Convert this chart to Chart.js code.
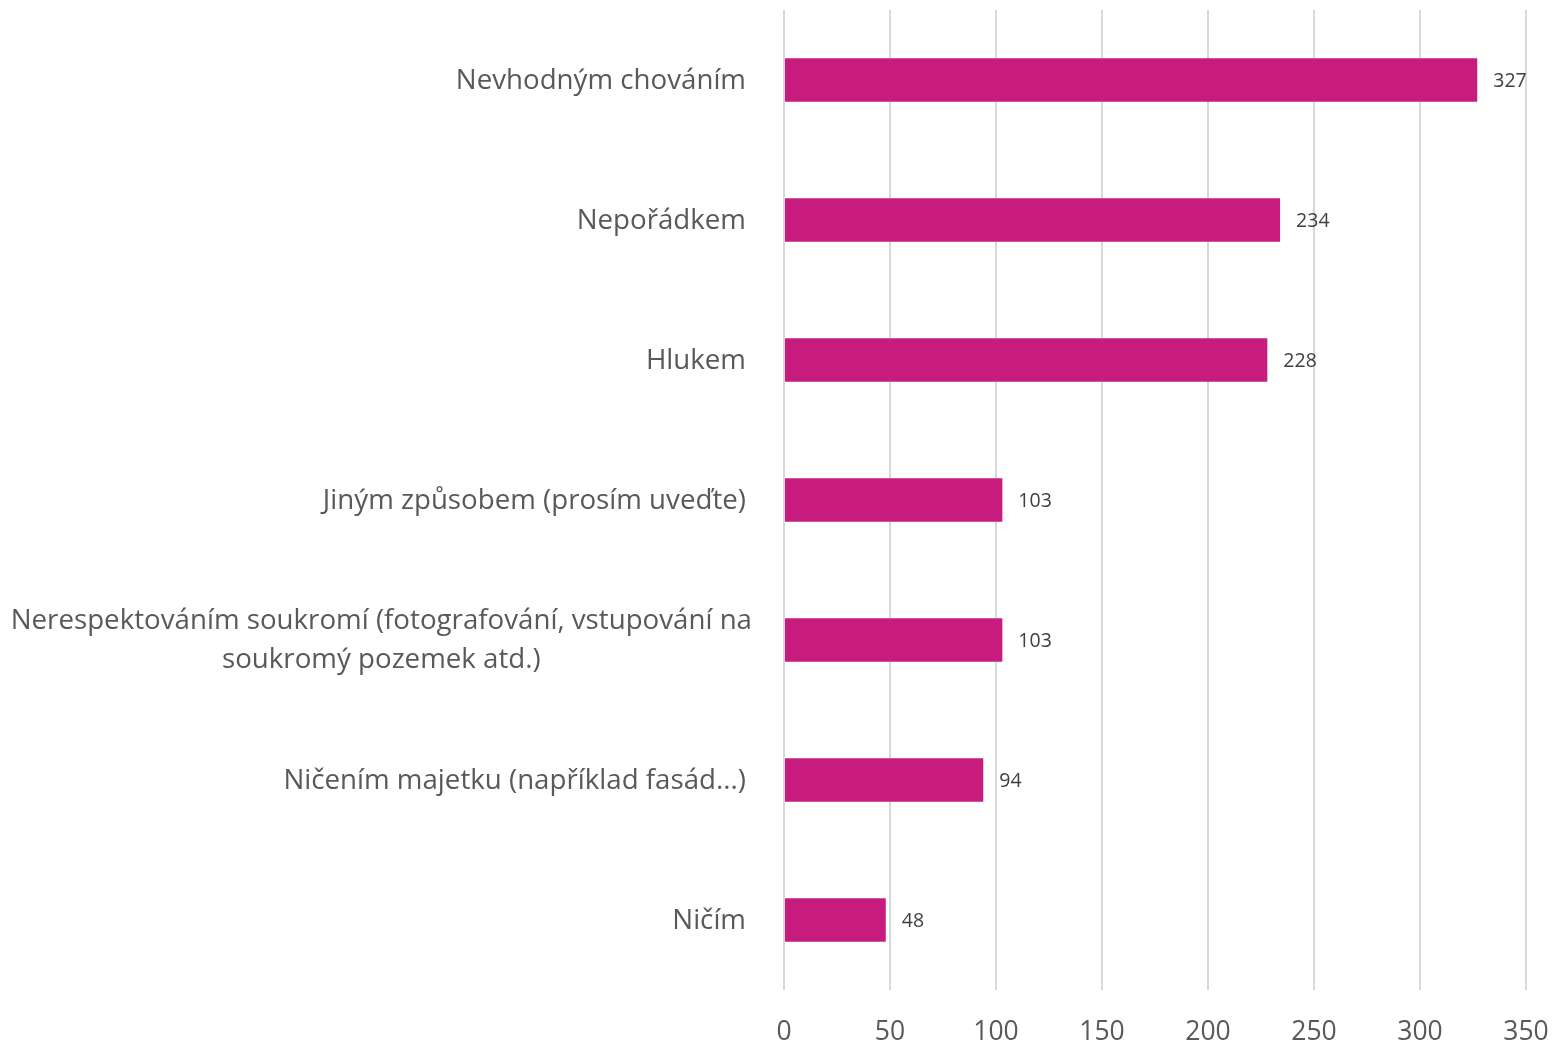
<!DOCTYPE html>
<html>
<head>
<meta charset="utf-8">
<script src="https://cdn.jsdelivr.net/npm/chart.js@4"></script>
<style>
  html, body { margin: 0; padding: 0; background: #fff; }
  #wrap { width: 1555px; height: 1047px; }
</style>
</head>
<body>
<div id="wrap"><canvas id="chart"></canvas></div>
<script>
var categories = [
    "Nevhodným chováním",
    "Nepořádkem",
    "Hlukem",
    "Jiným způsobem (prosím uveďte)",
    ["Nerespektováním soukromí (fotografování, vstupování na", "soukromý pozemek atd.)"],
    "Ničením majetku (například fasád...)",
    "Ničím"
]
var values = [327, 234, 228, 103, 103, 94, 48]
var ticks = [0, 50, 100, 150, 200, 250, 300, 350]

var fontFamily = "'Open Sans', 'Noto Sans', sans-serif"

// y labels drawn by hand so the wrapped one is centred like in Excel
var labelPlugin = {
    id: 'labels',
    afterDraw: function (chart) {
        var ctx = chart.ctx
        var y = chart.scales.y
        var right = chart.chartArea.left - 38
        ctx.save()
        ctx.font = "27.7px " + fontFamily
        ctx.fillStyle = "#595959"
        ctx.textBaseline = "middle"
        for (let i = 0; i < categories.length; i++) {
            var lab = categories[i]
            var cy = y.getPixelForTick(i) + 1
            if (Array.isArray(lab)) {
                var widest = 0
                lab.forEach(function (l) { widest = Math.max(widest, ctx.measureText(l).width) })
                ctx.textAlign = "center"
                var lh = 39
                for (let j = 0; j < lab.length; j++) {
                    ctx.fillText(lab[j], right + 6 - widest / 2, cy - (lab.length - 1) * lh / 2 + j * lh)
                }
            } else {
                ctx.textAlign = "right"
                ctx.fillText(lab, right, cy)
            }
        }
        // value labels
        var meta = chart.getDatasetMeta(0)
        ctx.font = "19.5px " + fontFamily
        ctx.fillStyle = "#404040"
        ctx.textAlign = "left"
        meta.data.forEach(function (bar, i) {
            ctx.fillText(values[i], bar.x + 16, bar.y + 1)
        })
        ctx.restore()
    }
}

var datos = {
    type: 'bar',
    data: {
        labels: categories,
        datasets: [{
            data: values,
            backgroundColor: "#C71C7E",
            barPercentage: 0.62,
            categoryPercentage: 0.5
        }]
    },
    options: {
        indexAxis: 'y',
        responsive: true,
        maintainAspectRatio: false,
        animation: false,
        layout: { padding: { top: 10, right: 0, left: 0, bottom: 0 } },
        plugins: {
            legend: { display: false },
            tooltip: { enabled: false }
        },
        scales: {
            x: {
                min: 0,
                max: 350,
                afterBuildTicks: function (scale) {
                    scale.ticks = ticks.map(function (v) { return { value: v } })
                },
                afterFit: function (scale) {
                    scale.height = 57
                    scale.paddingLeft = 0
                    scale.paddingRight = 29
                },
                border: { display: false },
                grid: { color: "#d9d9d9", lineWidth: 2, drawTicks: false },
                ticks: {
                    color: "#595959",
                    font: { size: 26.5, family: fontFamily },
                    padding: 27,
                    maxRotation: 0
                }
            },
            y: {
                border: { display: false },
                grid: { display: false },
                ticks: { display: false },
                afterFit: function (scale) { scale.width = 784 }
            }
        }
    },
    plugins: [labelPlugin]
}

var canvas = document.getElementById('chart').getContext('2d')
window.bars = new Chart(canvas, datos)
</script>
</body>
</html>
